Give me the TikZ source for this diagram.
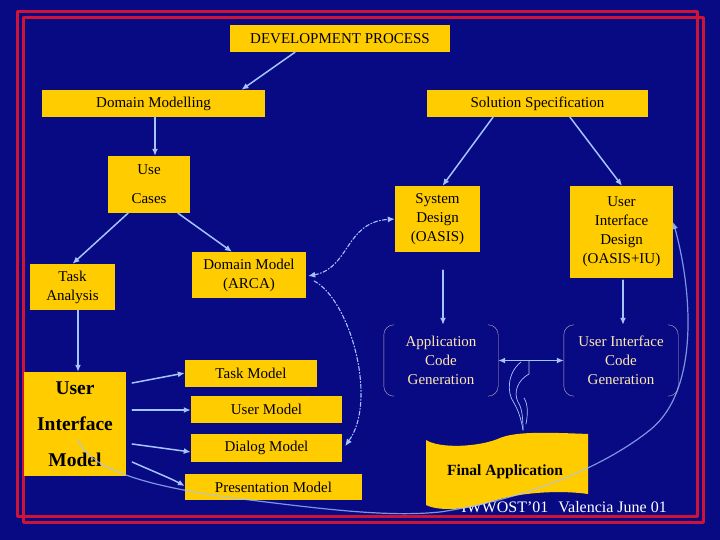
\documentclass[tikz,border=0pt]{standalone}
\usepackage{fontspec}
\setmainfont{Liberation Serif}
\usetikzlibrary{arrows.meta}

\definecolor{slidebg}{RGB}{8,10,132}
\definecolor{gold}{RGB}{255,204,0}
\definecolor{linkblue}{RGB}{165,195,255}
\definecolor{framered}{RGB}{205,20,55}
\definecolor{cream}{RGB}{255,232,176}
\definecolor{bracketc}{RGB}{200,170,180}

\tikzset{
  gbox/.style={fill=gold, inner sep=0pt, align=center,
    font=\fontsize{15}{19}\selectfont},
  genbox/.style={inner sep=0pt, align=center, text=cream,
    minimum width=114pt, minimum height=71pt,
    font=\fontsize{15}{19}\selectfont},
  link/.style={-{Latex[length=7pt,width=6pt]}, linkblue, line width=1.5pt},
  dlink/.style={link, line width=1.1pt,
    dash pattern=on 4pt off 2pt on 1pt off 2pt}
}

\begin{document}
\begin{tikzpicture}[x=1pt, y=-1pt, line cap=round, line join=round]

  %% ---- slide background + double frame ----
  \useasboundingbox (0,0) rectangle (720,540);
  \fill[slidebg] (0,0) rectangle (720,540);
  \draw[framered, line width=3pt] (17,12) rectangle (697,516);
  \draw[framered, line width=3pt] (23,18) rectangle (703,522);

  %% ---- boxes ----
  \node[gbox, minimum width=220pt, minimum height=27pt] (dev)     at (340,38.5)  {DEVELOPMENT PROCESS};
  \node[gbox, minimum width=223pt, minimum height=27pt] (dommod)  at (153.5,103.5) {Domain Modelling};
  \node[gbox, minimum width=221pt, minimum height=27pt] (solspec) at (537.5,103.5) {Solution Specification};
  \node[gbox, minimum width=82pt,  minimum height=57pt] (usecases) at (149,184.5) {Use\\[10pt]Cases};
  \node[gbox, minimum width=85pt,  minimum height=46pt] (task)    at (72.5,287)  {Task\\Analysis};
  \node[gbox, minimum width=114pt, minimum height=46pt] (dmodel)  at (249,275)   {Domain Model\\(ARCA)};
  \node[gbox, minimum width=85pt,  minimum height=66pt] (sysdes)  at (437.5,219) {System\\Design\\(OASIS)};
  \node[gbox, minimum width=103pt, minimum height=92pt] (uides)   at (621.5,232) {User\\Interface\\Design\\(OASIS+IU)};

  \node[genbox] (appgen) at (441,360.5) {Application\\Code\\Generation};
  \node[genbox] (uigen)  at (621,360.5) {User Interface\\Code\\Generation};
  \foreach \g in {appgen, uigen} {
    \draw[bracketc, rounded corners=10pt]
      ([xshift=10pt]\g.north west) -- (\g.north west) -- (\g.south west) -- ([xshift=10pt]\g.south west);
    \draw[bracketc, rounded corners=10pt]
      ([xshift=-10pt]\g.north east) -- (\g.north east) -- (\g.south east) -- ([xshift=-10pt]\g.south east);
  }

  \node[gbox, minimum width=102pt, minimum height=104pt,
        font=\fontsize{19.5}{36}\selectfont\bfseries] (uim) at (75,424) {User\\Interface\\Model};
  \node[gbox, minimum width=132pt, minimum height=27pt] (taskm) at (251,373.5) {Task Model};
  \node[gbox, minimum width=151pt, minimum height=27pt] (userm) at (266.5,409.5) {User Model};
  \node[gbox, minimum width=151pt, minimum height=28pt] (dialm) at (266.5,448) {Dialog Model};
  \node[gbox, minimum width=177pt, minimum height=26pt] (presm) at (273.5,487) {Presentation Model};

  %% ---- footer (partly behind the banner) ----
  \node[anchor=base east, text=white, inner sep=0pt,
        font=\fontsize{16}{18}\selectfont] (footer) at (667,512) {IWWOST'01\hspace{10pt}Valencia June 01};

  %% ---- final application banner ----
  \fill[gold] (426,440) .. controls (440,449) and (480,447) .. (500,438)
    .. controls (515,432) and (540,432) .. (588,434) -- (588,494)
    .. controls (560,490) and (520,492) .. (490,502)
    .. controls (470,509) and (440,512) .. (426,505) -- cycle;
  \node[inner sep=0pt, font=\fontsize{15.5}{18}\selectfont\bfseries] (final) at (505,472) {Final Application};

  %% ---- tree arrows ----
  \draw[link] ([xshift=-45pt]dev.south) -- ([xshift=88pt]dommod.north);
  \draw[link] ([xshift=6pt]usecases.north |- dommod.south) -- ([xshift=6pt]usecases.north);
  \draw[link] ([xshift=-44.5pt]solspec.south) -- ([xshift=5pt]sysdes.north);
  \draw[link] ([xshift=32.5pt]solspec.south) -- ([xshift=0.5pt]uides.north);
  \draw[link] ([xshift=-21pt]usecases.south) -- (task.north);
  \draw[link] ([xshift=29pt]usecases.south) -- ([xshift=-17pt]dmodel.north);
  \draw[link] ([xshift=5.5pt]task.south) -- ([xshift=3pt]uim.north);
  \draw[link] ([shift={(5.5,18)}]sysdes.south) -- ([xshift=2pt]appgen.north);
  \draw[link] ([shift={(1.5,2)}]uides.south) -- ([xshift=2pt]uigen.north);
  \draw[link, {Latex[length=7pt,width=6pt]}-{Latex[length=7pt,width=6pt]}] (appgen.east) -- (uigen.east -| uigen.west);

  %% ---- user interface model parts ----
  \draw[link] ([shift={(6,-41)}]uim.east) -- ([yshift=0.5pt]taskm.west);
  \draw[link] ([shift={(6,-14)}]uim.east) -- ([yshift=-0.5pt]userm.west);
  \draw[link] ([shift={(6,20)}]uim.east) -- ([yshift=-4pt]dialm.west);
  \draw[link] ([shift={(6,38)}]uim.east) .. controls (150,470) and (170,478) .. ([yshift=1pt]presm.west);

  %% ---- dash-dot links of the domain model ----
  \draw[dlink, {Latex[length=7pt,width=6pt]}-{Latex[length=7pt,width=6pt]}]
    ([shift={(2,1)}]dmodel.east) .. controls (350,268) and (345,222) .. (sysdes.west);
  \draw[dlink] ([shift={(8,6)}]dmodel.east) .. controls (350,300) and (378,400) .. ([shift={(3,-2)}]dialm.east);

  %% ---- curly arrow into the final application ----
  \draw[linkblue, line width=0.7pt]
    (529,361) -- (529,374) .. controls (518,380) and (513,392) .. (518,402)
    .. controls (522,408) and (523,418) .. (523,430);
  \draw[linkblue, line width=0.7pt]
    (521,362) .. controls (508,372) and (506,392) .. (514,403)
    .. controls (518,410) and (521,418) .. (523,430);
  \draw[linkblue, line width=0.7pt]
    (524,398) .. controls (528,404) and (528,414) .. (526,424);

  %% ---- long link from the interface model to the interface design ----
  \draw[link, line width=1.2pt, opacity=0.75]
    ([shift={(3,16)}]uim.center) .. controls (90,470) and (150,488) .. (250,500)
    .. controls (330,510) and (390,517) .. (440,512)
    .. controls (520,500) and (600,470) .. (650,430)
    .. controls (700,390) and (692,290) .. ([yshift=10pt]uides.east);

\end{tikzpicture}
\end{document}
